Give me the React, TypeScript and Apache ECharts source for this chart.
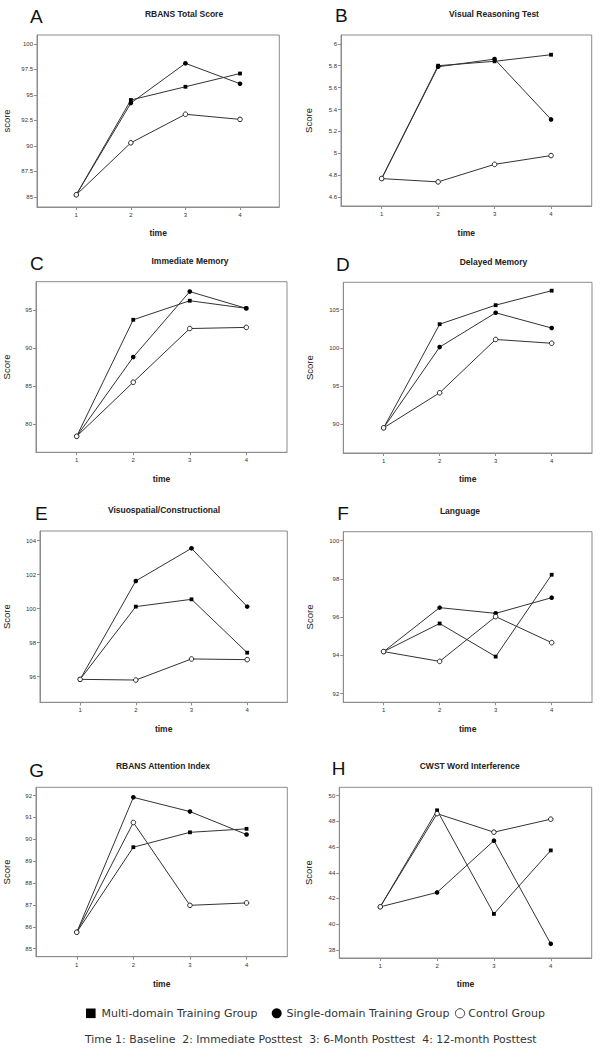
import React, { useEffect, useRef } from "react";
import * as echarts from "echarts";

const times = [1, 2, 3, 4];
const timeLabels = ["1", "2", "3", "4"];

const panelLetters = ["A", "B", "C", "D", "E", "F", "G", "H"];
const panelTitles = [
  "RBANS Total Score",
  "Visual Reasoning Test",
  "Immediate Memory",
  "Delayed Memory",
  "Visuospatial/Constructional",
  "Language",
  "RBANS Attention Index",
  "CWST Word Interference",
];
const yAxisNames = ["score", "Score", "Score", "Score", "Score", "Score", "Score", "Score"];

// Multi-domain Training Group
const multiA = [85.2, 94.5, 95.8, 97.1];
const multiB = [4.77, 5.8, 5.84, 5.9];
const multiC = [78.4, 93.7, 96.2, 95.2];
const multiD = [89.5, 103.1, 105.6, 107.5];
const multiE = [95.84, 100.12, 100.55, 97.41];
const multiF = [94.2, 95.67, 93.94, 98.22];
const multiG = [85.75, 89.64, 90.32, 90.48];
const multiH = [41.35, 48.86, 40.8, 45.74];

// Single-domain Training Group
const singleA = [85.2, 94.2, 98.1, 96.1];
const singleB = [4.77, 5.79, 5.86, 5.31];
const singleC = [78.4, 88.8, 97.4, 95.2];
const singleD = [89.5, 100.1, 104.6, 102.6];
const singleE = [95.84, 101.63, 103.55, 100.12];
const singleF = [94.2, 96.5, 96.2, 97.02];
const singleG = [85.75, 91.92, 91.27, 90.22];
const singleH = [41.35, 42.47, 46.5, 38.47];

// Control Group
const controlA = [85.2, 90.3, 93.1, 92.6];
const controlB = [4.77, 4.74, 4.9, 4.98];
const controlC = [78.4, 85.5, 92.55, 92.7];
const controlD = [89.5, 94.1, 101.1, 100.6];
const controlE = [95.84, 95.8, 97.04, 97.0];
const controlF = [94.2, 93.69, 96.03, 94.67];
const controlG = [85.75, 90.77, 86.98, 87.09];
const controlH = [41.35, 48.6, 47.16, 48.17];

// Y tick values
const ticksA = [85, 87.5, 90, 92.5, 95, 97.5, 100];
const ticksB = [4.6, 4.8, 5, 5.2, 5.4, 5.6, 5.8, 6];
const ticksC = [80, 85, 90, 95];
const ticksD = [90, 95, 100, 105];
const ticksE = [96, 98, 100, 102, 104];
const ticksF = [92, 94, 96, 98, 100];
const ticksG = [85, 86, 87, 88, 89, 90, 91, 92];
const ticksH = [38, 40, 42, 44, 46, 48, 50];

const yMins = [84.0, 4.52, 76.3, 86.2, 94.49, 91.55, 84.63, 37.37];
const yMaxs = [100.88, 6.08, 98.7, 108.6, 104.57, 100.47, 92.38, 50.65];

const legendNames = ["Multi-domain Training Group", "Single-domain Training Group", "Control Group"];
const footnote = "Time 1: Baseline  2: Immediate Posttest  3: 6-Month Posttest  4: 12-month Posttest";

// layout: [left, top, right, bottom] of each plot box
const boxes = [
  [36, 35, 279.3, 207],
  [341, 35, 591.7, 206],
  [36, 281.7, 287, 452.3],
  [343.3, 282.3, 592, 453],
  [40, 531, 287.3, 702.3],
  [343.3, 531.7, 592, 702.3],
  [36, 787.3, 287.3, 956.7],
  [339.3, 787.3, 591.7, 958],
];
const titlePos = [
  [184, 14], [494, 14], [190, 261], [493.5, 261.7],
  [164, 510], [460, 510.7], [163, 765.7], [469.7, 765.7],
];
const letterPos = [
  [30, 16.3], [335, 15.5], [30, 263.3], [336, 264.3],
  [35, 513.3], [337.3, 513.3], [29.3, 770], [331.7, 768.3],
];
const yNameX = [10, 313.3, 11, 314, 11, 314, 11, 313];
const xNameY = [228, 228, 474, 474, 724, 724, 979, 979];

export default function App() {
  const ref = useRef<HTMLDivElement>(null);
  useEffect(() => {
    if (!ref.current) return;
    const chart = echarts.init(ref.current, null, { renderer: "svg" });
    const multis = [multiA, multiB, multiC, multiD, multiE, multiF, multiG, multiH];
    const singles = [singleA, singleB, singleC, singleD, singleE, singleF, singleG, singleH];
    const controls = [controlA, controlB, controlC, controlD, controlE, controlF, controlG, controlH];
    const ticks = [ticksA, ticksB, ticksC, ticksD, ticksE, ticksF, ticksG, ticksH];
    const axisColor = "#8c8c8c";
    const lineColor = "#333";
    const grids: any[] = [];
    const xAxes: any[] = [];
    const yAxes: any[] = [];
    const series: any[] = [];
    const graphics: any[] = [];

    boxes.forEach((b, i) => {
      const [l, t, r, bt] = b;
      grids.push({
        left: l, top: t, width: r - l, height: bt - t,
        show: true, borderColor: axisColor, borderWidth: 1, backgroundColor: "transparent",
      });
      xAxes.push({
        type: "value", gridIndex: i, min: 0.28, max: 4.72,
        name: "time", nameLocation: "middle", nameGap: xNameY[i] - bt,
        nameTextStyle: { fontFamily: "Liberation Sans", fontWeight: "bold", fontSize: 8.5, color: "#222" },
        axisLine: { show: true, lineStyle: { color: axisColor } },
        axisTick: { show: true, length: 3, customValues: times, lineStyle: { color: axisColor } },
        axisLabel: {
          show: true, customValues: times, margin: 5, fontSize: 6, color: "#333",
          fontFamily: "Liberation Sans",
          formatter: (v: number) => timeLabels[times.indexOf(v)] ?? "",
        },
        splitLine: { show: false },
      });
      yAxes.push({
        type: "value", gridIndex: i, min: yMins[i], max: yMaxs[i],
        name: yAxisNames[i], nameLocation: "middle", nameGap: l - yNameX[i],
        nameTextStyle: { fontFamily: "Liberation Sans", fontSize: 9.5, color: "#222" },
        axisLine: { show: true, lineStyle: { color: axisColor } },
        axisTick: { show: true, length: 3, customValues: ticks[i], lineStyle: { color: axisColor } },
        axisLabel: {
          show: true, customValues: ticks[i], margin: 4, fontSize: 6, color: "#333",
          fontFamily: "Liberation Sans",
          formatter: (v: number) => String(v),
        },
        splitLine: { show: false },
      });
      const mk = (arr: number[]) => arr.map((v, k) => [times[k], v]);
      series.push({
        type: "line", xAxisIndex: i, yAxisIndex: i, name: legendNames[0],
        data: mk(multis[i]), symbol: "rect", symbolSize: 3.8,
        lineStyle: { color: lineColor, width: 1 }, itemStyle: { color: "#000" },
      });
      series.push({
        type: "line", xAxisIndex: i, yAxisIndex: i, name: legendNames[1],
        data: mk(singles[i]), symbol: "circle", symbolSize: 4.6,
        lineStyle: { color: lineColor, width: 1 }, itemStyle: { color: "#000" },
      });
      series.push({
        type: "line", xAxisIndex: i, yAxisIndex: i, name: legendNames[2],
        data: mk(controls[i]), symbol: "circle", symbolSize: 4.6,
        lineStyle: { color: lineColor, width: 1 },
        itemStyle: { color: "#fff", borderColor: "#222", borderWidth: 1 },
      });
      graphics.push({
        type: "text", x: titlePos[i][0], y: titlePos[i][1],
        style: {
          text: panelTitles[i], fontFamily: "Liberation Sans", fontWeight: "bold", fontSize: 8.5,
          fill: "#222", align: "center", verticalAlign: "middle",
        },
      });
      graphics.push({
        type: "text", x: letterPos[i][0], y: letterPos[i][1],
        style: {
          text: panelLetters[i], fontFamily: "Liberation Sans", fontSize: 19,
          fill: "#111", align: "left", verticalAlign: "middle",
        },
      });
    });

    // Legend
    const ly = 1013.3;
    const lf = 11;
    graphics.push({ type: "rect", shape: { x: 86, y: ly - 4.8, width: 9.6, height: 9.6 }, style: { fill: "#000" } });
    graphics.push({
      type: "text", x: 101.5, y: ly,
      style: { text: legendNames[0], fontFamily: "DejaVu Sans", fontSize: lf, fill: "#333", verticalAlign: "middle" },
    });
    graphics.push({ type: "circle", shape: { cx: 276.7, cy: ly, r: 5 }, style: { fill: "#000" } });
    graphics.push({
      type: "text", x: 286.5, y: ly,
      style: { text: legendNames[1], fontFamily: "DejaVu Sans", fontSize: lf, fill: "#333", verticalAlign: "middle" },
    });
    graphics.push({ type: "circle", shape: { cx: 460, cy: ly, r: 4.6 }, style: { fill: "#fff", stroke: "#444", lineWidth: 1 } });
    graphics.push({
      type: "text", x: 468.3, y: ly,
      style: { text: legendNames[2], fontFamily: "DejaVu Sans", fontSize: lf, fill: "#333", verticalAlign: "middle" },
    });
    graphics.push({
      type: "text", x: 85, y: 1039.3,
      style: { text: footnote, fontFamily: "DejaVu Sans", fontSize: 10.9, fill: "#333", verticalAlign: "middle" },
    });

    chart.setOption({
      animation: false,
      backgroundColor: "#fff",
      grid: grids,
      xAxis: xAxes,
      yAxis: yAxes,
      series,
      graphic: graphics,
    });
    return () => chart.dispose();
  }, []);
  return (
    <div
      ref={ref}
      style={{ position: "absolute", left: 0, top: 0, width: 600, height: 1048 }}
    />
  );
}
